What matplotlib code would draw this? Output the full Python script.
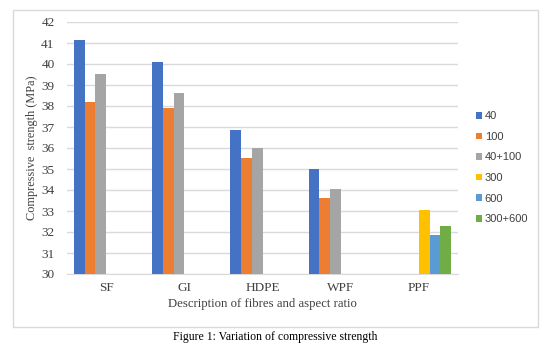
import matplotlib
matplotlib.use('Agg')
import matplotlib.pyplot as plt
import numpy as np
from matplotlib.patches import Rectangle

categories = ['SF', 'GI', 'HDPE', 'WPF', 'PPF']
series_names = ['40', '100', '40+100', '300', '600', '300+600']
# nan = no bar in that category
s_40 = [41.15, 40.1, 36.87, 34.98, np.nan]
s_100 = [38.2, 37.92, 35.53, 33.63, np.nan]
s_40_100 = [39.53, 38.62, 36.02, 34.06, np.nan]
s_300 = [np.nan, np.nan, np.nan, np.nan, 33.06]
s_600 = [np.nan, np.nan, np.nan, np.nan, 31.86]
s_300_600 = [np.nan, np.nan, np.nan, np.nan, 32.3]
yticks = list(range(30, 43))

colors = ['#4472C4', '#ED7D31', '#A5A5A5', '#FFC000', '#5B9BD5', '#70AD47']
serif = 'Liberation Serif'

fig = plt.figure(figsize=(5.56, 3.56), dpi=100)
# outer chart border
fig.patches.append(Rectangle((13 / 556, 1 - 327 / 356), 525 / 556, 317 / 356,
                             transform=fig.transFigure, fill=False,
                             edgecolor='#D9D9D9', linewidth=1.0))

ax = fig.add_axes([67 / 556, 1 - 274 / 356, 391 / 556, 252 / 356])
x = np.arange(len(categories))
w = 0.137
all_series = [s_40, s_100, s_40_100, s_300, s_600, s_300_600]
for i, (vals, name) in enumerate(zip(all_series, series_names)):
    vals = np.array(vals, dtype=float)
    ax.bar(x + (i - 2.5) * w, vals - 30, bottom=30, width=w, align='center',
           color=colors[i], label=name, zorder=3)

ax.set_xlim(-0.5, len(categories) - 0.5)
ax.set_ylim(30, 42)
ax.set_yticks(yticks)
ax.set_xticks(x)
ax.set_xticklabels(categories)
ax.grid(axis='y', color='#D9D9D9', linewidth=1.0, zorder=0)
for s in ['top', 'right', 'left']:
    ax.spines[s].set_visible(False)
ax.spines['bottom'].set_color('#D9D9D9')
ax.tick_params(length=0, labelsize=9.5, colors='#404040')
ax.tick_params(axis='y', pad=9)
ax.tick_params(axis='x', pad=6)
for lab in ax.get_xticklabels() + ax.get_yticklabels():
    lab.set_fontfamily(serif)

ax.set_xlabel('Description of fibres and aspect ratio', fontfamily=serif,
              fontsize=9.2, color='#404040', labelpad=3)
ax.set_ylabel('Compressive  strength (MPa)', fontfamily=serif,
              fontsize=8.8, color='#404040', labelpad=2)

ax.legend(loc='upper left', bbox_to_anchor=(1.02, 0.685), frameon=False,
          prop={'family': 'Liberation Sans', 'size': 8},
          handlelength=0.55, handleheight=0.55, handletextpad=0.25,
          labelspacing=0.95, labelcolor='#404040')

fig.text(275 / 556, 1 - 337 / 356, 'Figure 1: Variation of compressive strength',
         ha='center', va='center', fontfamily=serif, fontsize=8.5, color='black')

fig.savefig('out.png', dpi=100)
